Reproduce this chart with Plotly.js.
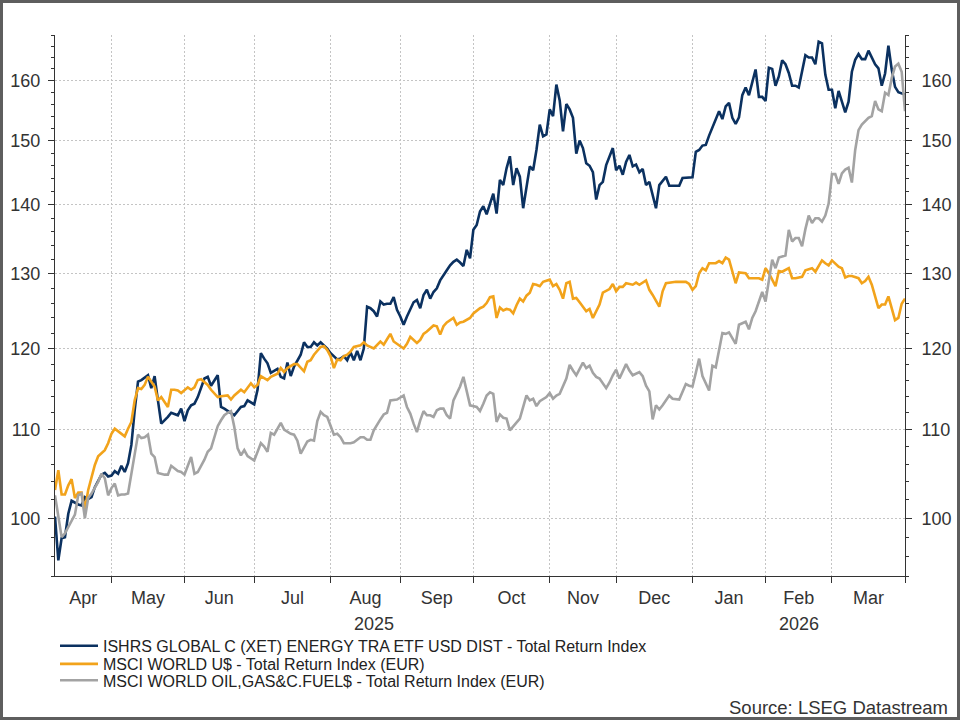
<!DOCTYPE html>
<html><head><meta charset="utf-8">
<script src="https://cdn.plot.ly/plotly-3.0.1.min.js"></script>
<style>
html,body{margin:0;padding:0;background:#fff;}
#wrap{position:relative;width:960px;height:720px;}
#chart{position:absolute;left:0;top:0;width:960px;height:720px;}
#frame{position:absolute;left:0;top:0;width:960px;height:720px;box-sizing:border-box;border:3px solid #5e5e5e;pointer-events:none;}
</style></head>
<body><div id="wrap"><div id="chart"></div><div id="frame"></div></div>
<script>
// trading days (weekdays) shown on the chart
const dates = [
"2025-04-08","2025-04-09","2025-04-10","2025-04-11","2025-04-14","2025-04-15","2025-04-16","2025-04-17","2025-04-18","2025-04-21",
"2025-04-22","2025-04-23","2025-04-24","2025-04-25","2025-04-28","2025-04-29","2025-04-30",
"2025-05-01","2025-05-02","2025-05-05","2025-05-06","2025-05-07","2025-05-08","2025-05-09","2025-05-12","2025-05-13","2025-05-14",
"2025-05-15","2025-05-16","2025-05-19","2025-05-20","2025-05-21","2025-05-22","2025-05-23","2025-05-26","2025-05-27","2025-05-28",
"2025-05-29","2025-05-30",
"2025-06-02","2025-06-03","2025-06-04","2025-06-05","2025-06-06","2025-06-09","2025-06-10","2025-06-11","2025-06-12","2025-06-13",
"2025-06-16","2025-06-17","2025-06-18","2025-06-19","2025-06-20","2025-06-23","2025-06-24","2025-06-25","2025-06-26","2025-06-27",
"2025-06-30",
"2025-07-01","2025-07-02","2025-07-03","2025-07-04","2025-07-07","2025-07-08","2025-07-09","2025-07-10","2025-07-11","2025-07-14",
"2025-07-15","2025-07-16","2025-07-17","2025-07-18","2025-07-21","2025-07-22","2025-07-23","2025-07-24","2025-07-25","2025-07-28",
"2025-07-29","2025-07-30","2025-07-31",
"2025-08-01","2025-08-04","2025-08-05","2025-08-06","2025-08-07","2025-08-08","2025-08-11","2025-08-12","2025-08-13","2025-08-14",
"2025-08-15","2025-08-18","2025-08-19","2025-08-20","2025-08-21","2025-08-22","2025-08-25","2025-08-26","2025-08-27","2025-08-28",
"2025-08-29",
"2025-09-01","2025-09-02","2025-09-03","2025-09-04","2025-09-05","2025-09-08","2025-09-09","2025-09-10","2025-09-11","2025-09-12",
"2025-09-15","2025-09-16","2025-09-17","2025-09-18","2025-09-19","2025-09-22","2025-09-23","2025-09-24","2025-09-25","2025-09-26",
"2025-09-29","2025-09-30",
"2025-10-01","2025-10-02","2025-10-03","2025-10-06","2025-10-07","2025-10-08","2025-10-09","2025-10-10","2025-10-13","2025-10-14",
"2025-10-15","2025-10-16","2025-10-17","2025-10-20","2025-10-21","2025-10-22","2025-10-23","2025-10-24","2025-10-27","2025-10-28",
"2025-10-29","2025-10-30","2025-10-31",
"2025-11-03","2025-11-04","2025-11-05","2025-11-06","2025-11-07","2025-11-10","2025-11-11","2025-11-12","2025-11-13","2025-11-14",
"2025-11-17","2025-11-18","2025-11-19","2025-11-20","2025-11-21","2025-11-24","2025-11-25","2025-11-26","2025-11-27","2025-11-28",
"2025-12-01","2025-12-02","2025-12-03","2025-12-04","2025-12-05","2025-12-08","2025-12-09","2025-12-10","2025-12-11","2025-12-12",
"2025-12-15","2025-12-16","2025-12-17","2025-12-18","2025-12-19","2025-12-22","2025-12-23","2025-12-24","2025-12-25","2025-12-26",
"2025-12-29","2025-12-30","2025-12-31",
"2026-01-01","2026-01-02","2026-01-05","2026-01-06","2026-01-07","2026-01-08","2026-01-09","2026-01-12","2026-01-13","2026-01-14",
"2026-01-15","2026-01-16","2026-01-19","2026-01-20","2026-01-21","2026-01-22","2026-01-23","2026-01-26","2026-01-27","2026-01-28",
"2026-01-29","2026-01-30",
"2026-02-02","2026-02-03","2026-02-04","2026-02-05","2026-02-06","2026-02-09","2026-02-10","2026-02-11","2026-02-12","2026-02-13",
"2026-02-16","2026-02-17","2026-02-18","2026-02-19","2026-02-20","2026-02-23","2026-02-24","2026-02-25","2026-02-26","2026-02-27",
"2026-03-02","2026-03-03","2026-03-04","2026-03-05","2026-03-06","2026-03-09","2026-03-10","2026-03-11","2026-03-12","2026-03-13",
"2026-03-16","2026-03-17","2026-03-18","2026-03-19","2026-03-20","2026-03-23","2026-03-24","2026-03-25","2026-03-26","2026-03-27",
"2026-03-30","2026-03-31",
"2026-04-01"
];

const seriesNames = [
  "ISHRS GLOBAL C (XET) ENERGY TRA ETF USD DIST - Total Return Index",
  "MSCI WORLD U$ - Total Return Index (EUR)",
  "MSCI WORLD OIL,GAS&C.FUEL$ - Total Return Index (EUR)"
];

// values read at the trading days above (null = not read; line joins neighbours)
const energyEtf = [
100.2,95.6,97.9,98.0,100.5,101.9,null,101.5,101.4,102.3,
102.1,102.3,103.4,null,104.8,105.0,104.6,104.7,105.2,104.9,
105.8,105.1,106.1,108.2,112.3,115.8,116.0,116.3,116.6,115.0,
116.5,113.5,110.7,null,111.5,112.0,null,111.7,112.5,111.0,
112.3,112.9,113.1,113.9,null,116.2,116.4,115.3,null,116.6,
112.7,112.5,null,111.9,111.7,null,112.7,112.8,113.5,113.3,
113.0,114.8,119.4,118.7,118.1,116.9,null,117.4,116.4,116.2,
118.2,116.5,117.7,null,119.2,120.8,120.2,120.2,120.8,120.4,
120.8,120.4,120.0,119.4,119.0,118.6,118.7,119.0,118.5,119.5,
118.5,119.7,118.5,120.0,125.5,125.3,124.9,124.2,126.2,125.8,
125.9,125.9,126.8,125.1,124.2,123.1,124.2,null,126.1,126.4,
125.3,127.1,127.8,126.6,127.5,128.0,129.1,null,130.5,131.2,
131.7,132.0,131.6,131.1,133.4,132.2,136.3,137.0,139.0,139.8,
138.6,140.0,141.7,138.7,143.8,143.0,145.6,147.5,143.0,145.6,
144.3,139.5,142.7,145.9,145.3,148.5,152.6,150.7,151.0,155.1,
154.0,159.3,156.6,151.5,156.0,155.1,153.7,147.9,150.0,148.8,
146.4,146.0,145.0,140.8,143.0,143.5,146.1,null,148.8,145.3,
146.0,144.6,146.6,147.7,145.9,146.2,145.0,145.5,143.0,143.5,
141.5,139.5,143.0,null,144.3,142.9,null,null,142.9,144.1,
null,144.2,144.2,148.2,148.5,149.2,149.3,150.8,152.2,null,
154.8,153.5,155.6,156.2,153.7,152.7,153.8,157.5,158.8,157.5,
null,161.9,157.2,157.2,156.5,162.2,162.0,159.1,160.7,163.5,
162.8,161.3,159.1,159.1,158.8,null,164.4,164.0,164.0,162.8,
166.8,166.5,161.0,158.4,158.4,155.3,158.2,156.4,154.6,156.4,
161.5,163.6,164.6,163.7,163.7,165.2,164.0,162.8,162.1,159.1,
161.2,166.1,161.9,158.9,158.0,157.8,157.6
];

const msciWorld = [
103.1,105.3,102.6,102.6,103.6,104.3,102.2,102.8,102.8,100.9,
103.1,null,105.9,106.9,null,107.6,108.4,109.5,110.1,null,
109.5,109.2,110.1,110.9,113.5,115.0,114.9,115.4,116.4,115.8,
115.2,113.5,113.9,null,112.7,114.8,114.8,114.7,114.4,114.8,
115.1,114.8,115.1,116.0,116.1,null,115.4,114.8,null,113.9,
114.0,null,114.1,113.6,114.1,null,114.8,114.5,115.1,115.6,
115.1,115.4,116.5,null,116.0,116.4,null,116.8,117.5,117.0,
117.5,null,118.0,118.0,117.5,117.1,118.3,118.5,119.2,null,
120.2,120.3,119.8,119.0,117.5,118.6,118.5,119.0,119.2,119.6,
120.2,null,120.4,120.8,120.4,120.2,120.0,null,120.9,120.5,
121.2,121.9,120.9,null,120.3,120.0,120.6,121.5,null,120.7,
121.1,121.9,122.2,null,123.0,122.9,121.8,122.9,123.4,null,
124.0,123.1,123.4,123.5,null,124.0,124.6,null,125.3,125.5,
126.0,126.8,126.9,124.0,125.4,125.0,125.2,125.1,124.6,125.7,
126.6,126.2,127.0,127.4,128.6,128.5,128.3,128.9,null,129.2,
128.3,128.6,127.8,126.6,128.7,128.9,126.6,126.7,126.1,125.5,
124.9,125.2,124.0,null,125.8,127.4,null,127.9,128.6,127.6,
128.2,128.2,128.7,null,128.5,128.8,128.5,null,129.1,127.8,
127.1,null,125.5,127.6,128.7,null,128.9,128.9,null,null,
128.9,128.6,127.8,128.3,130.1,130.8,130.5,131.5,null,131.5,
131.8,131.5,132.3,132.0,130.5,128.7,130.2,null,130.1,129.4,
129.4,null,129.4,129.2,130.8,130.1,null,128.3,130.4,130.3,
null,130.8,129.4,129.4,null,129.6,130.5,null,130.8,130.3,
131.2,131.9,131.5,131.2,131.9,null,131.0,130.8,129.5,129.7,
129.7,null,129.4,128.7,129.0,129.6,128.5,126.9,125.3,125.8,
125.8,126.9,125.3,123.7,124.0,125.9,126.6
];

const msciOilGas = [
102.5,null,98.0,98.4,99.1,99.8,100.4,102.5,102.7,100.0,
102.2,102.7,null,104.0,104.9,104.4,102.5,103.3,103.8,102.5,
102.6,102.6,102.7,104.9,107.2,109.4,109.0,109.1,109.4,107.2,
106.8,105.0,null,104.8,104.8,105.8,null,105.2,105.1,104.8,
105.8,106.8,104.9,105.1,null,106.5,107.4,107.8,109.1,110.4,
111.1,111.7,112.0,112.2,110.3,107.8,107.0,107.6,106.9,null,
106.4,107.4,108.4,108.0,107.4,109.6,109.4,null,110.8,110.0,
null,109.5,109.4,108.7,107.2,null,108.6,108.8,108.7,111.0,
112.1,111.7,111.5,110.5,109.4,109.5,109.1,108.4,null,108.4,
108.5,108.8,109.1,109.1,108.8,108.8,109.9,null,111.2,111.8,
112.0,113.5,null,113.6,113.8,114.1,112.7,111.9,110.7,109.7,
111.1,112.2,111.7,111.7,111.5,112.3,112.5,112.5,111.7,111.3,
113.5,null,115.2,116.4,114.5,112.9,null,112.7,112.2,113.1,
114.1,114.5,114.3,110.9,111.8,111.4,111.3,109.9,null,110.9,
111.3,null,114.1,113.5,113.7,112.8,113.4,null,113.9,114.4,
113.7,114.1,114.3,null,116.2,117.9,117.2,116.6,null,118.2,
117.5,117.8,116.9,116.4,116.2,null,115.0,115.7,116.6,117.3,
116.2,null,118.0,117.2,116.6,null,117.0,116.5,115.3,114.6,
111.2,112.9,112.4,112.9,null,114.1,113.7,null,113.6,114.5,
115.5,115.3,115.2,116.9,118.7,116.5,null,114.7,117.8,117.6,
null,122.0,121.9,122.1,null,120.6,123.1,null,123.5,122.5,
124.0,124.9,126.2,127.5,126.2,129.4,132.0,130.8,132.3,null,
132.6,136.3,134.6,135.1,135.1,133.9,136.4,138.4,137.3,138.0,
138.0,137.5,138.4,140.2,144.7,144.7,143.2,144.8,145.4,145.7,
143.4,148.5,151.7,152.6,null,153.7,154.0,156.5,155.1,154.8,
157.9,157.5,160.4,162.4,162.9,161.5,154.8
];

const monthLabels = ["Apr","May","Jun","Jul","Aug","Sep","Oct","Nov","Dec","Jan","Feb","Mar"];
const yearLabels = ["2025","2026"];
const yTickVals = [100,110,120,130,140,150,160];
const yTickText = ["100","110","120","130","140","150","160"];

// layout positions
const monthLabelPos = ["2025-04-18 12:00","2025-05-16","2025-06-16 12:00","2025-07-16 12:00","2025-08-15 12:00",
  "2025-09-16","2025-10-16 12:00","2025-11-17","2025-12-16 12:00","2026-01-16","2026-02-16","2026-03-17"];
const monthBounds = ["2025-05-01","2025-06-02","2025-07-01","2025-08-01","2025-09-01","2025-10-01","2025-11-03",
  "2025-12-01","2026-01-01","2026-02-02","2026-03-02","2026-04-01"];
const yearLabelPos = ["2025-08-20","2026-02-16"];
const yMinor = [94,96,98,102,104,106,108,112,114,116,118,122,124,126,128,132,134,136,138,142,144,146,148,152,154,156,158,162,164,166,168];
const yRange = [Math.log10(94), Math.log10(168)];

const colors = ["#0b3160", "#f2a31b", "#a3a3a3"];
const FONT = "Liberation Sans, Arial, Helvetica, sans-serif";
const TXT = "#333333";
const GRID = "#c4c4c4";
const legendIds = ["legend", "legend2", "legend3"];
const legendY = [-0.1292, -0.1627, -0.1930];

const traces = [
  {x: dates, y: energyEtf, name: seriesNames[0], type: "scatter", mode: "lines", connectgaps: true,
   line: {color: colors[0], width: 2.6}, yaxis: "y", legend: legendIds[0]},
  {x: dates, y: msciWorld, name: seriesNames[1], type: "scatter", mode: "lines", connectgaps: true,
   line: {color: colors[1], width: 2.6}, yaxis: "y", legend: legendIds[1]},
  {x: dates, y: msciOilGas, name: seriesNames[2], type: "scatter", mode: "lines", connectgaps: true,
   line: {color: colors[2], width: 2.6}, yaxis: "y2", legend: legendIds[2]}
];

const yCommon = {
  type: "log", range: yRange, autorange: false,
  tickmode: "array", tickvals: yTickVals, ticktext: yTickText,
  ticks: "outside", ticklen: 6, tickwidth: 1, tickcolor: TXT,
  showline: true, linecolor: TXT, linewidth: 1, zeroline: false,
  tickfont: {family: FONT, size: 18, color: TXT},
  minor: {tickmode: "array", tickvals: yMinor, ticks: "outside", ticklen: 3, tickwidth: 1, tickcolor: TXT, showgrid: false},
  fixedrange: true
};

function legendAt(i) {
  return {
    x: 0.0, y: legendY[i], xanchor: "left", yanchor: "middle", orientation: "v", itemwidth: 38,
    font: {family: FONT, size: 16, color: "#222222"}, bgcolor: "rgba(0,0,0,0)"
  };
}

const layout = {
  width: 960, height: 720,
  margin: {l: 55, r: 55, t: 35, b: 144},
  paper_bgcolor: "#ffffff", plot_bgcolor: "#ffffff",
  font: {family: FONT, color: TXT},
  showlegend: true,
  xaxis: {
    type: "date", range: ["2025-04-08", "2026-04-01"], autorange: false,
    rangebreaks: [{bounds: ["sat", "mon"]}],
    tickmode: "array", tickvals: monthLabelPos, ticktext: monthLabels,
    ticks: "", showgrid: false, ticklabelstandoff: 5,
    showline: true, linecolor: TXT, linewidth: 1, zeroline: false,
    tickfont: {family: FONT, size: 18, color: TXT},
    minor: {tickmode: "array", tickvals: monthBounds, ticks: "outside", ticklen: 6, tickwidth: 1, tickcolor: TXT,
            showgrid: true, gridcolor: GRID, gridwidth: 1, griddash: "2px,2px"},
    fixedrange: true
  },
  yaxis: Object.assign({}, yCommon, {side: "left", showgrid: true, gridcolor: GRID, gridwidth: 1, griddash: "2px,2px", ticklabelstandoff: 4}),
  yaxis2: Object.assign({}, yCommon, {side: "right", overlaying: "y", anchor: "x", showgrid: false, ticklabelstandoff: 6}),
  legend: legendAt(0),
  legend2: legendAt(1),
  legend3: legendAt(2),
  annotations: [
    {text: yearLabels[0], x: yearLabelPos[0], xref: "x", y: -0.0888, yref: "paper", xanchor: "center", yanchor: "middle",
     showarrow: false, font: {family: FONT, size: 18, color: TXT}},
    {text: yearLabels[1], x: yearLabelPos[1], xref: "x", y: -0.0888, yref: "paper", xanchor: "center", yanchor: "middle",
     showarrow: false, font: {family: FONT, size: 18, color: TXT}},
    {text: "Source: LSEG Datastream", x: 1.053, xref: "paper", y: -0.2435, yref: "paper", xanchor: "right", yanchor: "middle",
     showarrow: false, font: {family: FONT, size: 18.5, color: TXT}}
  ]
};

Plotly.newPlot("chart", traces, layout, {displayModeBar: false, staticPlot: true});
</script>
</body></html>
